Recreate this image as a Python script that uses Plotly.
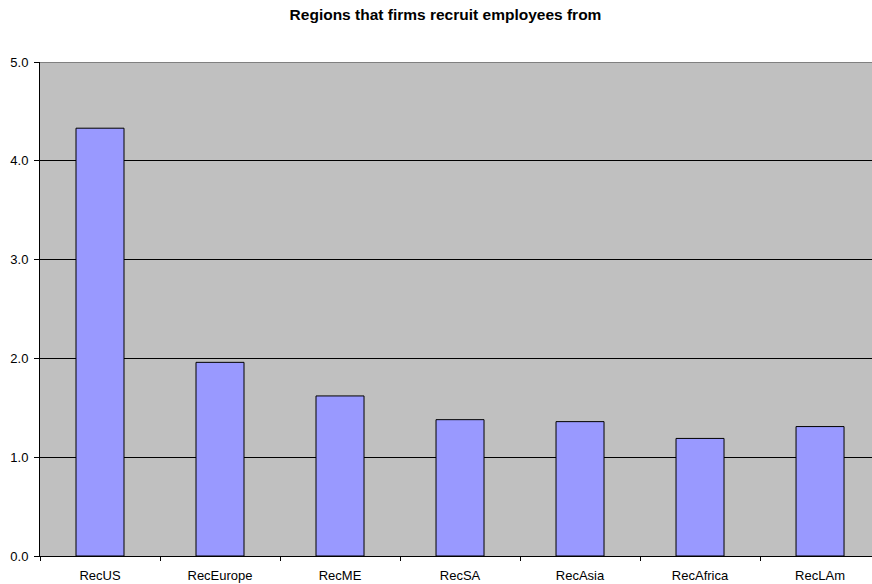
import plotly.graph_objects as go

categories = ["RecUS", "RecEurope", "RecME", "RecSA", "RecAsia", "RecAfrica", "RecLAm"]
values = [4.33, 1.96, 1.62, 1.38, 1.36, 1.19, 1.31]
y_ticks = [0, 1, 2, 3, 4, 5]
y_tick_labels = ["0.0", "1.0", "2.0", "3.0", "4.0", "5.0"]

fig = go.Figure()
fig.add_trace(go.Bar(
    x=categories, y=values,
    marker=dict(color="#9999FF", line=dict(color="#000000", width=1)),
    width=0.4,
))

fig.update_layout(
    width=872, height=584,
    margin=dict(l=40, r=0, t=62, b=28, autoexpand=False),
    paper_bgcolor="white",
    plot_bgcolor="#C0C0C0",
    showlegend=False,
    font=dict(family="Liberation Sans, Arial, sans-serif", size=13, color="black"),
    title=dict(text="<b>Regions that firms recruit employees from</b>",
               x=445.5 / 872, xanchor="center", y=1 - 14.5 / 584, yanchor="middle",
               font=dict(size=15.5, color="black")),
)
fig.update_xaxes(
    range=[-0.5, 6.433],
    showline=True, linecolor="black", linewidth=1,
    ticks="outside", ticklen=4, tickcolor="black", tickson="boundaries",
    showgrid=False, tickfont=dict(size=13), ticklabelstandoff=7,
)
fig.update_yaxes(
    range=[0, 5],
    tickvals=y_ticks, ticktext=y_tick_labels,
    showline=True, linecolor="black", linewidth=1,
    ticks="outside", ticklen=5, tickcolor="black",
    showgrid=True, gridcolor="black", gridwidth=1,
    zeroline=False, tickfont=dict(size=13), ticklabelstandoff=3,
)
fig.add_shape(type="line", xref="paper", yref="y", x0=0, x1=1, y0=5, y1=5,
              line=dict(color="#808080", width=2))

fig.write_html("out.html", config={"displayModeBar": False},
               post_script="document.body.style.margin='0';document.body.style.overflow='hidden';")
